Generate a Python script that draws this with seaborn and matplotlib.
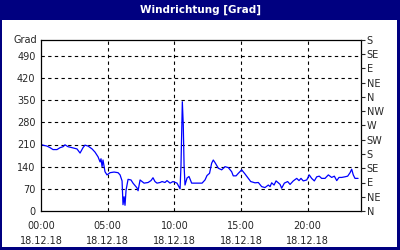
import matplotlib
matplotlib.use("Agg")
import matplotlib.pyplot as plt
import seaborn as sns
import pandas as pd

title = "Windrichtung [Grad]"
y_ticks = [0, 70, 140, 210, 280, 350, 420, 490]
compass_ticks = [0, 45, 90, 135, 180, 225, 270, 315, 360, 405, 450, 495, 540]
compass_labels = ["N", "NE", "E", "SE", "S", "SW", "W", "NW", "N", "NE", "E", "SE", "S"]
x_ticks = [0, 5, 10, 15, 20]
x_labels = ["00:00\n18.12.18", "05:00\n18.12.18", "10:00\n18.12.18",
            "15:00\n18.12.18", "20:00\n18.12.18"]

hours = [0.00, 0.23, 0.45, 0.68, 0.90, 1.20, 1.43, 1.65, 1.80, 2.03, 2.33, 2.70,
         2.93, 3.15, 3.30, 3.53, 3.83, 4.05, 4.28, 4.43, 4.50, 4.58, 4.65, 4.80,
         4.95, 5.18, 5.48, 5.78, 5.93, 6.08, 6.15, 6.23, 6.30, 6.38, 6.53, 6.75,
         6.90, 7.20, 7.28, 7.43, 7.73, 8.03, 8.25, 8.40, 8.55, 8.70, 8.93, 9.08,
         9.30, 9.45, 9.68, 9.90, 10.20, 10.43, 10.50, 10.60, 10.67, 10.73, 10.80,
         10.95, 11.10, 11.30, 11.70, 12.08, 12.30, 12.45, 12.64, 12.80, 12.92,
         13.05, 13.30, 13.55, 13.80, 14.05, 14.30, 14.42, 14.63, 14.80, 15.05,
         15.30, 15.55, 15.73, 16.05, 16.30, 16.55, 16.80, 17.05, 17.18, 17.30,
         17.48, 17.63, 17.80, 17.93, 18.05, 18.25, 18.50, 18.68, 18.92, 19.18,
         19.35, 19.50, 19.67, 19.93, 20.12, 20.30, 20.50, 20.68, 20.87, 21.05,
         21.30, 21.55, 21.80, 22.00, 22.18, 22.35, 22.55, 22.80, 23.00, 23.18,
         23.30, 23.42, 23.55, 23.78]
direction = [210, 207, 205, 200, 194, 194, 200, 203, 209, 203, 200, 196,
             183, 200, 208, 205, 196, 186, 171, 155, 165, 140, 161, 124,
             114, 121, 123, 121, 114, 95, 20, 45, 18, 66, 100, 98,
             88, 73, 64, 98, 88, 90, 96, 105, 93, 88, 90, 93,
             90, 96, 88, 93, 88, 70, 145, 345, 272, 145, 82,
             104, 109, 88, 88, 88, 98, 112, 119, 151, 161,
             153, 135, 130, 140, 137, 124, 111, 111, 119, 130,
             117, 103, 93, 89, 90, 77, 74, 82, 77, 89,
             82, 95, 89, 84, 72, 88, 93, 84, 95, 103,
             96, 103, 95, 98, 114, 103, 95, 108, 110, 103,
             103, 114, 106, 110, 96, 106, 106, 108, 110, 121,
             132, 114, 103, 103]

df = pd.DataFrame({"hour": hours, "dir": direction})

sns.set_style("white")
plt.rcParams["font.family"] = ["DejaVu Sans"]

fig = plt.figure(figsize=(4, 2.5), dpi=100, facecolor="#000080")
bg = fig.add_axes([2 / 400, 3 / 250, 395 / 400, 227 / 250], zorder=-10)
bg.set_facecolor("white")
bg.set_xticks([])
bg.set_yticks([])
for s in bg.spines.values():
    s.set_visible(False)
fig.text(0.5, 1 - 10 / 250, title, color="white", fontsize=7.5, fontweight="bold",
         ha="center", va="center")

ax = fig.add_axes([41 / 400, 39 / 250, 320 / 400, 171 / 250])
ax.set_facecolor("none")
sns.lineplot(data=df, x="hour", y="dir", ax=ax, color="#0000ff", linewidth=0.9)
ax.set_xlim(0, 24)
ax.set_ylim(0, 540)
ax.set_yticks(y_ticks)
ax.set_yticklabels([str(v) for v in y_ticks], fontsize=7)
ax.set_xticks(x_ticks)
ax.set_xticklabels(x_labels, fontsize=7, linespacing=1.7)
ax.set_xticks(list(range(25)), minor=True)
ax.tick_params(axis="x", which="both", direction="in", length=3, width=0.8,
               color="black", pad=7)
ax.tick_params(axis="y", which="both", length=0, pad=4)
ax.set_xlabel("")
ax.set_ylabel("")
for v in y_ticks[1:]:
    ax.axhline(v, color="black", linestyle=(0, (3, 3)), linewidth=0.8, zorder=1)
for v in x_ticks[1:]:
    ax.axvline(v, color="black", linestyle=(0, (3, 3)), linewidth=0.8, zorder=1)
for s in ax.spines.values():
    s.set_color("black")
    s.set_linewidth(0.9)
ax.text(-0.012, 540, "Grad", fontsize=7, ha="right", va="center",
        transform=ax.get_yaxis_transform())

ax2 = ax.twinx()
ax2.set_ylim(0, 540)
ax2.set_yticks(compass_ticks)
ax2.set_yticklabels(compass_labels, fontsize=7)
ax2.tick_params(axis="y", direction="out", length=3, width=0.8, pad=1)
for s in ax2.spines.values():
    s.set_visible(False)

fig.savefig("out.png", dpi=100, facecolor=fig.get_facecolor())
